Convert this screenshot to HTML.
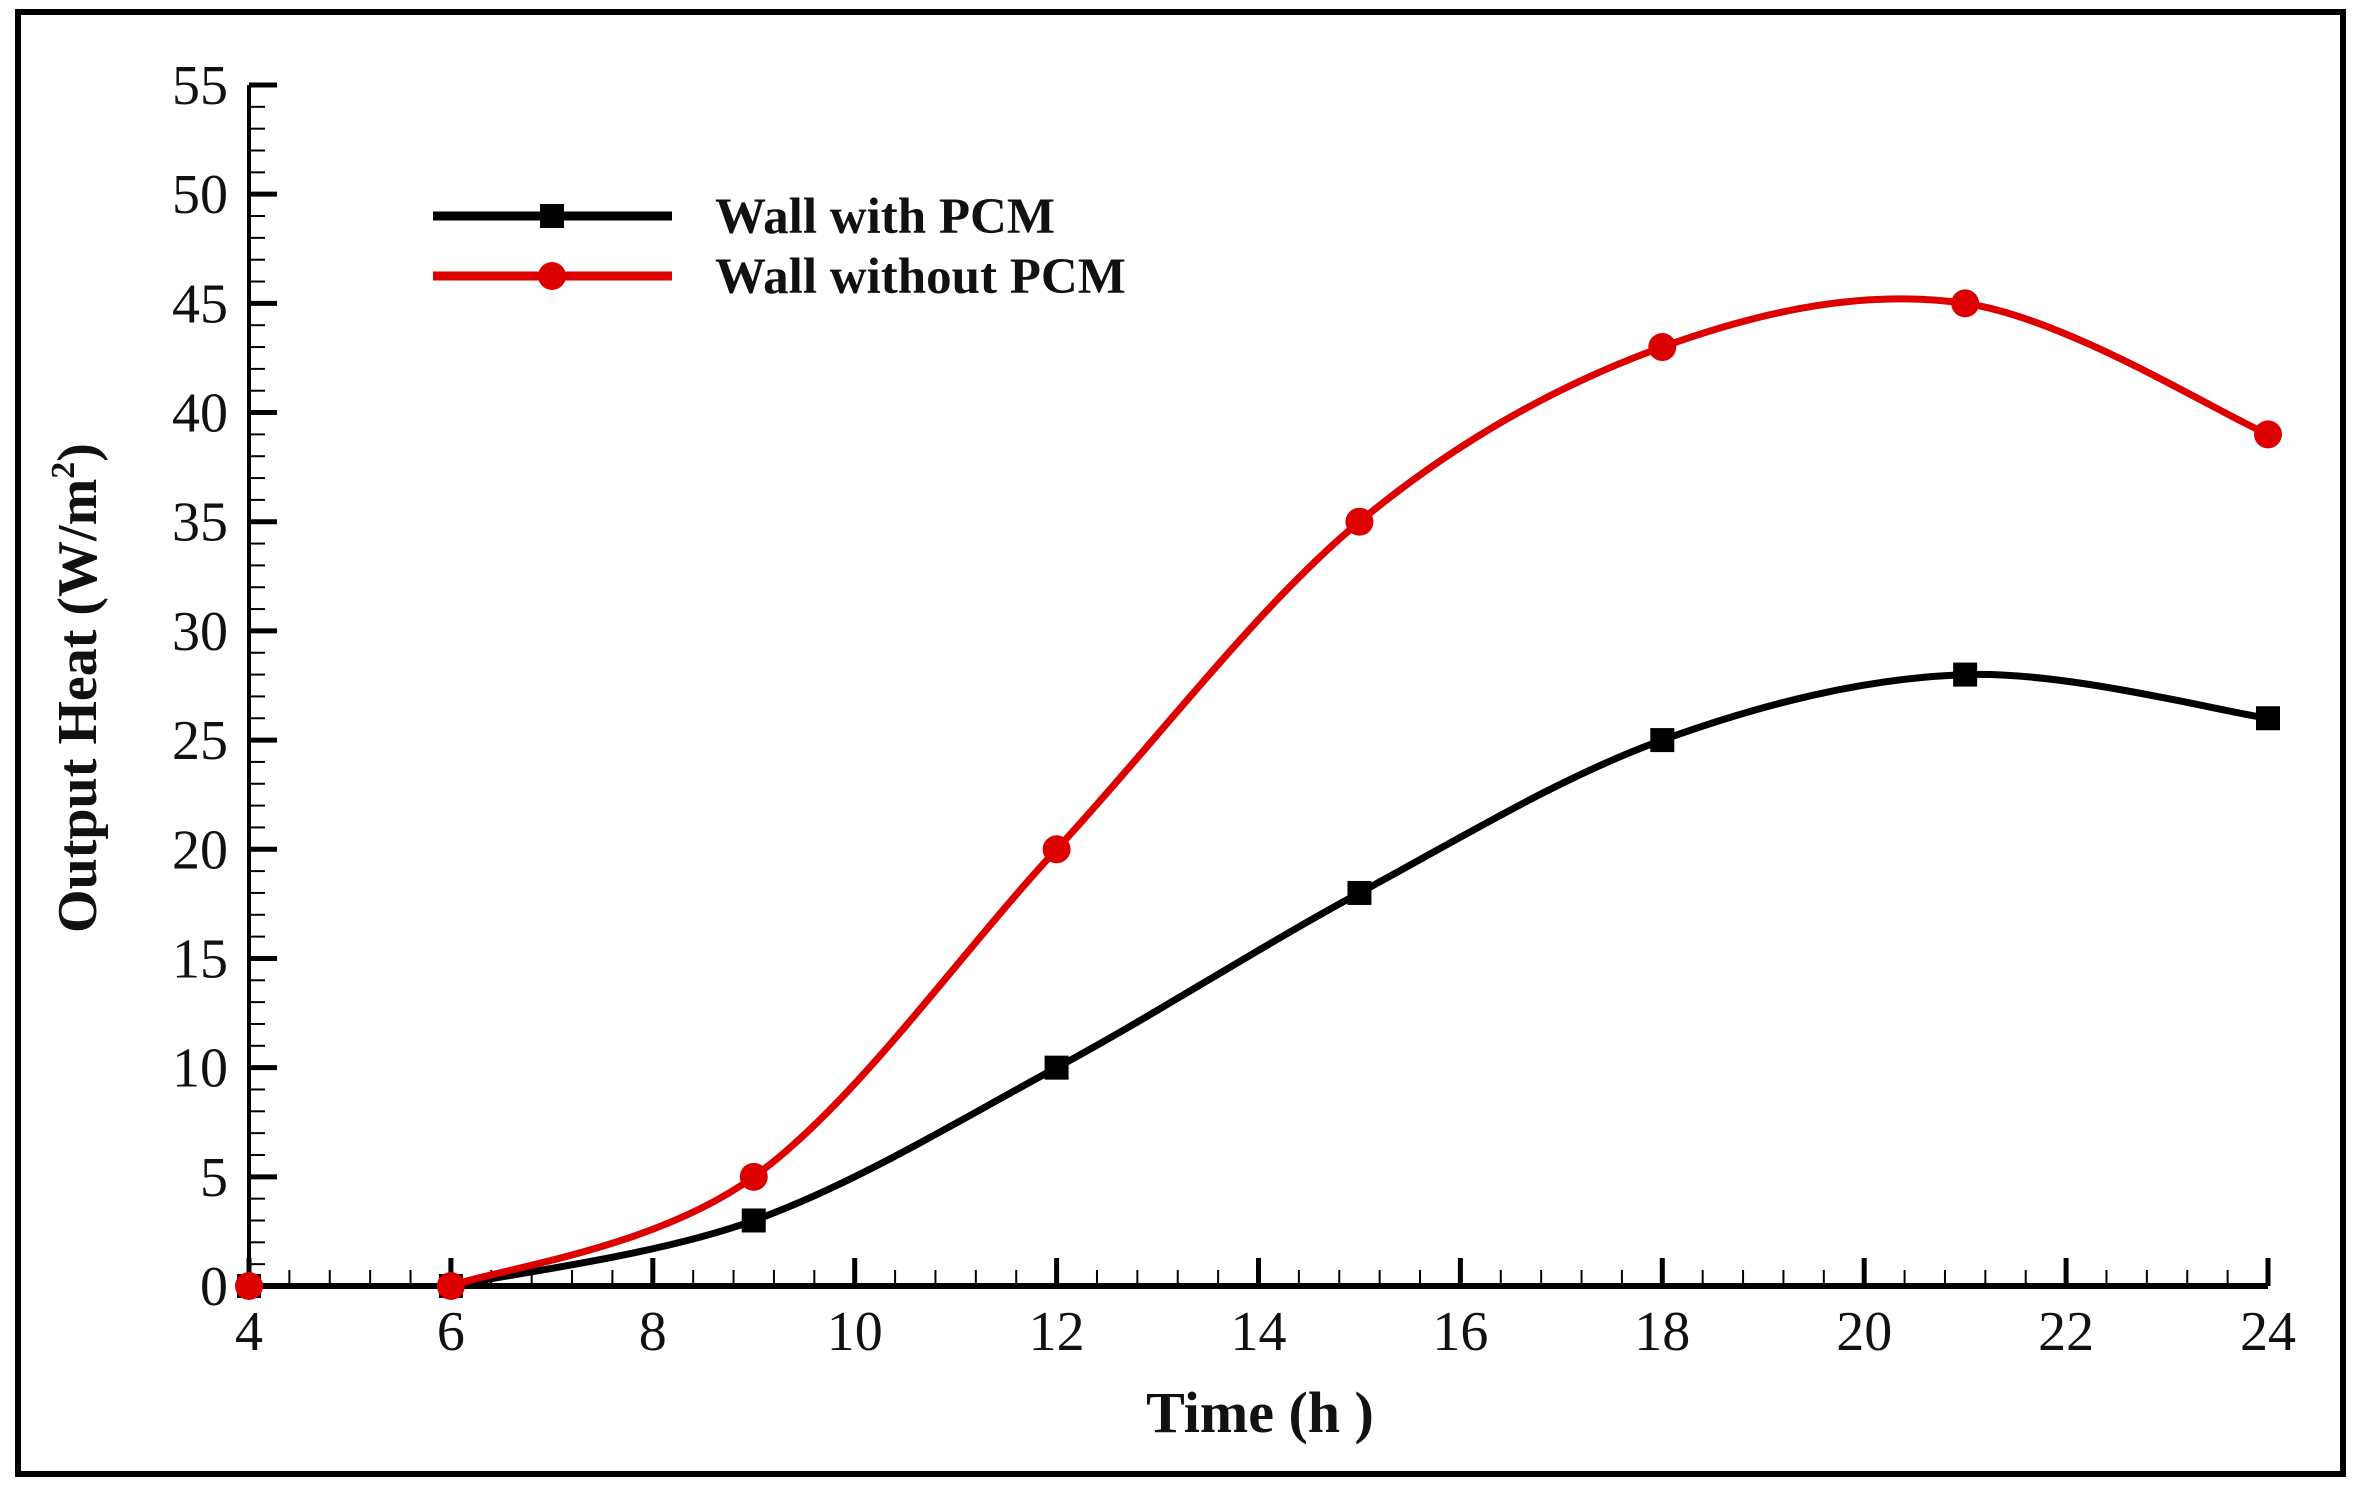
<!DOCTYPE html>
<html><head><meta charset="utf-8"><style>
html,body{margin:0;padding:0;background:#fff}
svg{display:block}
text{font-family:"Liberation Serif",serif;fill:#111}
</style></head><body>
<svg id="chart" width="2357" height="1490" viewBox="0 0 2357 1490">
<rect x="18" y="12" width="2325" height="1462" fill="#fff" stroke="#000" stroke-width="6"/>
<g id="axes"></g>
<g id="series"></g>
<text x="1260" y="1432" text-anchor="middle" font-size="58" font-weight="bold">Time (h  )</text>
<text transform="translate(96,688) rotate(-90)" text-anchor="middle" font-size="56" font-weight="bold">Output Heat (W/m<tspan font-size="34" dy="-22">2</tspan><tspan dy="22">)</tspan></text>
<g>
<line x1="433" y1="216" x2="672" y2="216" stroke="#000" stroke-width="9"/>
<rect x="540" y="204" width="24" height="24" fill="#000"/>
<text x="715" y="233" font-size="51" font-weight="bold">Wall with PCM</text>
<line x1="433" y1="276" x2="672" y2="276" stroke="#d00" stroke-width="9"/>
<circle cx="552" cy="276" r="14" fill="#d00"/>
<text x="715" y="293" font-size="51" font-weight="bold">Wall without PCM</text>
</g>
</svg>
<script>
const hours = [4, 6, 9, 12, 15, 18, 21, 24];
const withPCM = [0, 0, 3, 10, 18, 25, 28, 26];
const withoutPCM = [0, 0, 5, 20, 35, 43, 45, 39];
const xTicks = [4, 6, 8, 10, 12, 14, 16, 18, 20, 22, 24];
const yTicks = [0, 5, 10, 15, 20, 25, 30, 35, 40, 45, 50, 55];

const NS = 'http://www.w3.org/2000/svg';
const X0 = 249, X1 = 2268, Y0 = 1286, Y1 = 85;
function xs(v){ return X0 + (v - 4) / 20 * (X1 - X0); }
function ys(v){ return Y0 - v / 55 * (Y0 - Y1); }
function mk(tag, attrs, parent){ const e = document.createElementNS(NS, tag); for (const k in attrs) e.setAttribute(k, attrs[k]); parent.appendChild(e); return e; }

const axes = document.getElementById('axes');
let a = mk('line', {x1: X0, y1: Y0, x2: X1, y2: Y0, stroke: '#000', 'stroke-width': 6}, axes);


a = mk('line', {x1: X0, y1: Y0, x2: X0, y2: Y1, stroke: '#000', 'stroke-width': 4}, axes);



for (let v = 4; v <= 24.001; v += 0.4) {
  const major = Math.abs(v - Math.round(v / 2) * 2) < 0.01;
  const t = mk('line', {x1: xs(v), y1: Y0, x2: xs(v), y2: Y0 - (major ? 28 : 16), stroke: '#000', 'stroke-width': major ? 5 : 2}, axes);
  
  
}
xTicks.forEach(v => {
  const t = mk('text', {x: xs(v), y: 1350, 'text-anchor': 'middle', 'font-size': 56}, axes);
  t.textContent = v;
  
  
});
for (let v = 0; v <= 55; v += 1) {
  const major = v % 5 === 0;
  const t = mk('line', {x1: X0, y1: ys(v), x2: X0 + (major ? 28 : 16), y2: ys(v), stroke: '#000', 'stroke-width': major ? 5 : 2}, axes);
  
  
}
yTicks.forEach(v => {
  const t = mk('text', {x: 228, y: ys(v) + 19, 'text-anchor': 'end', 'font-size': 56}, axes);
  t.textContent = v;
  
  
});

function smoothPath(xsArr, ysArr){
  const p = xsArr.map((x, i) => [xs(x), ys(ysArr[i])]);
  let d = 'M' + p[0][0] + ',' + p[0][1];
  for (let i = 0; i < p.length - 1; i++) {
    const p0 = p[Math.max(0, i - 1)], p1 = p[i], p2 = p[i + 1], p3 = p[Math.min(p.length - 1, i + 2)];
    const c1 = [p1[0] + (p2[0] - p0[0]) / 6, p1[1] + (p2[1] - p0[1]) / 6];
    const c2 = [p2[0] - (p3[0] - p1[0]) / 6, p2[1] - (p3[1] - p1[1]) / 6];
    d += ' C' + c1 + ' ' + c2 + ' ' + p2;
  }
  return d;
}
const series = document.getElementById('series');
let s = mk('path', {d: smoothPath(hours.slice(1), withPCM.slice(1)), fill: 'none', stroke: '#000', 'stroke-width': 7}, series);


s = mk('path', {d: smoothPath(hours.slice(1), withoutPCM.slice(1)), fill: 'none', stroke: '#d00', 'stroke-width': 7}, series);


hours.forEach((h, i) => {
  const m = mk('rect', {x: xs(h) - 12, y: ys(withPCM[i]) - 12, width: 24, height: 24, fill: '#000'}, series);
  
  
});
hours.forEach((h, i) => {
  const m = mk('circle', {cx: xs(h), cy: ys(withoutPCM[i]), r: 14, fill: '#d00'}, series);
  
  
});
</script>
</body></html>
